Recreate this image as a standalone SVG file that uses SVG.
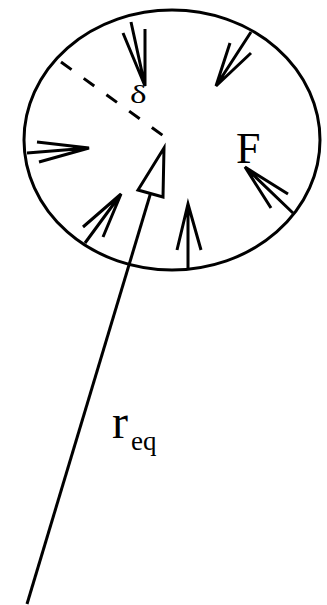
<svg xmlns="http://www.w3.org/2000/svg" width="327" height="605" viewBox="0 0 327 605">
<style>
.s{fill:none;stroke:#000;stroke-width:3;stroke-linecap:butt;stroke-linejoin:miter}
.t{font-family:"Liberation Serif","Times New Roman",serif;fill:#000}
</style>
<rect width="327" height="605" fill="#fff"/>
<g id="body">
<ellipse class="s" cx="172" cy="140" rx="148" ry="130"/>
</g>
<g id="delta-line">
<line class="s" x1="61" y1="62" x2="165" y2="137" stroke-dasharray="13 15"/>
</g>
<g id="forces">
<path class="s" d="M131,22 L145,86 M123,33 L145,86 L145,29"/>
<path class="s" d="M251,32 L216,86 M230,43 L216,86 L251,53"/>
<path class="s" d="M27,153 L89,148 M37,142 L89,148 L39,162"/>
<path class="s" d="M85,243 L121,194 M83,227 L121,194 L103,237"/>
<path class="s" d="M188,268 L188,204 M177,250 L188,204 L201,250"/>
<path class="s" d="M293,213 L245,167 M288,194 L245,167 L271,208"/>
</g>
<g id="connectors">
<line class="s" x1="27" y1="604" x2="150.5" y2="193.5" stroke-width="3.5"/>
<polygon points="164,148 138,190 163,197" fill="#fff" stroke="#000" stroke-width="3" stroke-linejoin="miter"/>
</g>
<g id="labels">
<text class="t" font-size="26" transform="translate(130,103) scale(1.35,1)">δ</text>
<text class="t" x="236" y="163" font-size="44">F</text>
<text class="t" x="112" y="438" font-size="48">r</text>
<text class="t" x="131" y="450" font-size="27">eq</text>
</g>
</svg>
